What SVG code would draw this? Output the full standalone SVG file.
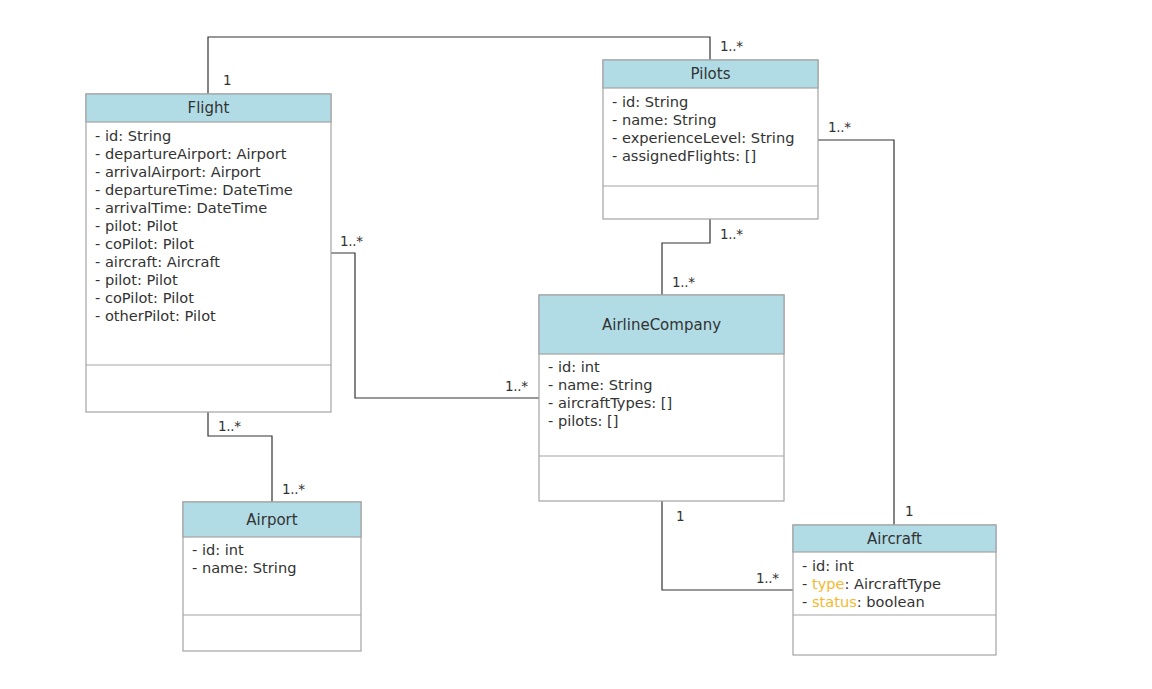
<svg xmlns="http://www.w3.org/2000/svg" width="1152" height="689" viewBox="0 0 1152 689">
  <style>
    .box { fill: #ffffff; stroke: #a3a3a3; stroke-width: 1.2; }
    .head { fill: #b1dce5; stroke: #a3a3a3; stroke-width: 1.2; }
    .sep { stroke: #a3a3a3; stroke-width: 1.2; }
    .title { font-family: "DejaVu Sans", "Open Sans", sans-serif; font-size: 15px; fill: #333333; text-anchor: middle; }
    .attr { font-family: "DejaVu Sans", "Open Sans", sans-serif; font-size: 14.6px; fill: #333333; }
    .hl { fill: #f5b82e; }
    .edge { fill: none; stroke: #333333; stroke-width: 1.2; }
    .mult { font-family: "DejaVu Sans", "Open Sans", sans-serif; font-size: 13.5px; fill: #333333; letter-spacing: -0.3px; }
  </style>
  <rect width="1152" height="689" fill="#ffffff"/>

  <g id="connectors">
    <!-- Flight to Pilots -->
    <polyline class="edge" points="208,94 208,37 710,37 710,60"/>
    <text class="mult" x="223" y="85">1</text>
    <text class="mult" x="720" y="51">1..*</text>
    <!-- Pilots to Aircraft -->
    <polyline class="edge" points="818,140 894,140 894,525"/>
    <text class="mult" x="828" y="132">1..*</text>
    <text class="mult" x="905" y="516">1</text>
    <!-- Pilots to AirlineCompany -->
    <polyline class="edge" points="710,219 710,243 662,243 662,295"/>
    <text class="mult" x="720" y="239">1..*</text>
    <text class="mult" x="672" y="287">1..*</text>
    <!-- Flight to AirlineCompany -->
    <polyline class="edge" points="331,253 355,253 355,398 539,398"/>
    <text class="mult" x="340" y="246">1..*</text>
    <text class="mult" x="505" y="391">1..*</text>
    <!-- Flight to Airport -->
    <polyline class="edge" points="208,412 208,436 272,436 272,502"/>
    <text class="mult" x="218" y="431">1..*</text>
    <text class="mult" x="282" y="494">1..*</text>
    <!-- AirlineCompany to Aircraft -->
    <polyline class="edge" points="662,501 662,590 793,590"/>
    <text class="mult" x="676" y="521">1</text>
    <text class="mult" x="756" y="583">1..*</text>
  </g>

  <g id="flight">
    <rect class="box" x="86" y="94" width="245" height="318"/>
    <rect class="head" x="86" y="94" width="245" height="28"/>
    <text class="title" x="208.5" y="113">Flight</text>
    <line class="sep" x1="86" y1="365" x2="331" y2="365"/>
    <text class="attr" x="95" y="141">- id: String</text>
    <text class="attr" x="95" y="159">- departureAirport: Airport</text>
    <text class="attr" x="95" y="177">- arrivalAirport: Airport</text>
    <text class="attr" x="95" y="195">- departureTime: DateTime</text>
    <text class="attr" x="95" y="213">- arrivalTime: DateTime</text>
    <text class="attr" x="95" y="231">- pilot: Pilot</text>
    <text class="attr" x="95" y="249">- coPilot: Pilot</text>
    <text class="attr" x="95" y="267">- aircraft: Aircraft</text>
    <text class="attr" x="95" y="285">- pilot: Pilot</text>
    <text class="attr" x="95" y="303">- coPilot: Pilot</text>
    <text class="attr" x="95" y="321">- otherPilot: Pilot</text>
  </g>

  <g id="pilots">
    <rect class="box" x="603" y="60" width="215" height="159"/>
    <rect class="head" x="603" y="60" width="215" height="28"/>
    <text class="title" x="710.5" y="79">Pilots</text>
    <line class="sep" x1="603" y1="186" x2="818" y2="186"/>
    <text class="attr" x="612" y="107">- id: String</text>
    <text class="attr" x="612" y="125">- name: String</text>
    <text class="attr" x="612" y="143">- experienceLevel: String</text>
    <text class="attr" x="612" y="161">- assignedFlights: []</text>
  </g>

  <g id="airlinecompany">
    <rect class="box" x="539" y="295" width="245" height="206"/>
    <rect class="head" x="539" y="295" width="245" height="59"/>
    <text class="title" x="661.5" y="330">AirlineCompany</text>
    <line class="sep" x1="539" y1="456" x2="784" y2="456"/>
    <text class="attr" x="548" y="372">- id: int</text>
    <text class="attr" x="548" y="390">- name: String</text>
    <text class="attr" x="548" y="408">- aircraftTypes: []</text>
    <text class="attr" x="548" y="426">- pilots: []</text>
  </g>

  <g id="airport">
    <rect class="box" x="183" y="502" width="178" height="149"/>
    <rect class="head" x="183" y="502" width="178" height="35"/>
    <text class="title" x="272" y="525">Airport</text>
    <line class="sep" x1="183" y1="615" x2="361" y2="615"/>
    <text class="attr" x="192" y="555">- id: int</text>
    <text class="attr" x="192" y="573">- name: String</text>
  </g>

  <g id="aircraft">
    <rect class="box" x="793" y="525" width="203" height="130"/>
    <rect class="head" x="793" y="525" width="203" height="27"/>
    <text class="title" x="894.5" y="544">Aircraft</text>
    <line class="sep" x1="793" y1="615" x2="996" y2="615"/>
    <text class="attr" x="802" y="571">- id: int</text>
    <text class="attr" x="802" y="589">- <tspan class="hl">type</tspan>: AircraftType</text>
    <text class="attr" x="802" y="607">- <tspan class="hl">status</tspan>: boolean</text>
  </g>
</svg>
